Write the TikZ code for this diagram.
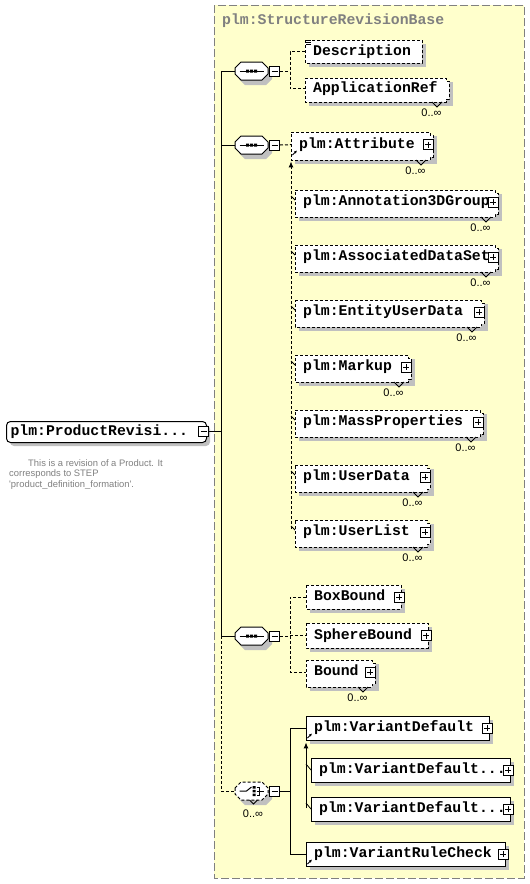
\documentclass[tikz,border=0pt]{standalone}
\usepackage{fontspec}
\setmainfont{Liberation Sans}
\newfontfamily\elfont{Liberation Mono}
\usetikzlibrary{arrows.meta}
\definecolor{xyellow}{RGB}{255,255,204}
\definecolor{xshadow}{RGB}{192,192,192}
\definecolor{xgray}{RGB}{128,128,128}
\tikzset{
  conn/.style={line width=1pt, draw=black},
  dconn/.style={conn, dash pattern=on 3pt off 2pt},
  edash/.style={line width=1pt, dash pattern=on 3pt off 2pt},
  esolid/.style={line width=1pt},
  shd/.style={fill=xshadow},
  elfontstyle/.style={font=\elfont\bfseries\fontsize{14.8}{16}\selectfont},
  eltext/.style={elfontstyle, inner xsep=8pt, inner ysep=0pt, text height=9.5pt, text depth=2.5pt, anchor=north west},
  pmbox/.style={draw, fill=white, line width=1pt, minimum size=10pt, inner sep=0pt},
  card/.style={font=\fontsize{11}{13}\selectfont, inner sep=0pt, text=black},
  anchorbox/.style={minimum width=33pt, minimum height=18pt, inner sep=0pt},
  tick/.style={line width=0.8pt},
}
% element box: name, x1, y1, x2, y2, text, border style, multi, plus
\newcommand{\xelem}[9]{%
  \fill[shd] (#2+4,#3+4) rectangle (#4+4,#5+4);
  \ifnum#8=1
    \filldraw[fill=white,#7] (#2,#3) -- (#4-3,#3) -- (#4-3,#3+3) -- (#4,#3+3) -- (#4,#5-3) -- (#4-3,#5-3) -- (#4-3,#5) -- (#2,#5) -- cycle;
    \pgfmathsetmacro\xw{#4-#2-3}\pgfmathsetmacro\xh{#5-#3-3}%
  \else
    \filldraw[fill=white,#7] (#2,#3) rectangle (#4,#5);
    \pgfmathsetmacro\xw{#4-#2}\pgfmathsetmacro\xh{#5-#3}%
  \fi
  \pgfmathsetmacro\xtw{\xw-16}%
  \node[eltext, minimum width=\xw pt, minimum height=\xh pt] (#1) at (#2,#3) {\makebox[\xtw pt][l]{#6}};
  \ifnum#9=1
  \begin{scope}[shift={([xshift=-2pt]#1.east)}]
    \filldraw[fill=white, line width=1pt] (-5,-5) rectangle (5,5);
    \draw[line width=1pt] (-3,0) -- (3,0) (0,-3) -- (0,3);
  \end{scope}
  \fi
  \ifnum#8=1
    \draw[tick] (#4-17,#5) -- (#4-12,#5+5) -- (#4-7,#5);
    \node[card] (#1-card) at (#4-17.5,#5+11) {0..∞};
  \fi
}
% compositor octagon: name, cx, cy, style
\newcommand{\xoct}[4]{%
  \begin{scope}[shift={(#2+4,#3+5)}]
    \fill[shd] (-16.5,-3) -- (-10.5,-9) -- (10.5,-9) -- (16.5,-3) -- (16.5,3) -- (10.5,9) -- (-10.5,9) -- (-16.5,3) -- cycle;
  \end{scope}
  \begin{scope}[shift={(#2,#3)}]
    \filldraw[fill=white,#4] (-16.5,-3) -- (-10.5,-9) -- (10.5,-9) -- (16.5,-3) -- (16.5,3) -- (10.5,9) -- (-10.5,9) -- (-16.5,3) -- cycle;
    \node[anchorbox] (#1) at (0,0) {};
  \end{scope}
  \node[pmbox] (#1m) at (#2+23,#3) {};
  \draw[line width=1pt] (#2+20,#3) -- (#2+26,#3);
}
\newcommand{\xseqicon}[2]{%
  \begin{scope}[shift={(#1,#2)}]
    \draw[line width=1pt] (-12,0) -- (12,0);
    \fill (-5.5,-1.5) rectangle (-2.5,1.5) (-1.5,-1.5) rectangle (1.5,1.5) (2.5,-1.5) rectangle (5.5,1.5);
  \end{scope}
}
\begin{document}
\begin{tikzpicture}[x=1pt,y=-1pt]
\useasboundingbox (0,0) rectangle (530,884);
\fill[white] (0,0) rectangle (530,884);
\filldraw[fill=xyellow, draw=xgray, line width=1pt, dash pattern=on 8pt off 3pt] (214,5) rectangle (524,878);
\node[anchor=west, inner sep=0pt, elfontstyle, text=xgray] (title) at (222,21) {plm:StructureRevisionBase};

% root element
\fill[shd, rounded corners=4pt] (10,425) rectangle (210,446);
\node[draw, fill=white, line width=1pt, rounded corners=4pt, anchor=north west, minimum width=200pt, minimum height=21pt, inner xsep=4pt, inner ysep=0pt, elfontstyle, text height=9.5pt, text depth=2.5pt] (root) at (6,421) {\makebox[192pt][l]{plm:ProductRevisi...}};
\node[pmbox] (rootm) at (203.5,431.5) {};
\draw[line width=1pt] (200.5,431.5) -- (206.5,431.5);
\node[anchor=north west, inner sep=0pt, align=left, text=xgray, font=\fontsize{9.4}{10.5}\selectfont] (rootdoc) at (9,459) {\hspace*{19pt}This is a revision of a Product. It\\corresponds to STEP\\\textquotesingle product\_definition\_formation\textquotesingle.};

\coordinate (tk) at (221,0);
\coordinate (b1) at (290,0);
\coordinate (sgA) at (291,529);
\coordinate (sgB) at (306,808);

% compositors
\xoct{s1}{251.5}{71}{esolid}
\xseqicon{251.5}{71}
\xoct{s2}{251.5}{145}{esolid}
\xseqicon{251.5}{145}
\xoct{s3}{251.5}{636}{esolid}
\xseqicon{251.5}{636}
\xoct{ch}{251.5}{791}{edash}
\begin{scope}[shift={(251.5,791)}]
  \draw[line width=1pt] (-12,0) -- (-5,0) -- (0,-4);
  \fill (1,-5) rectangle (4,-2.5) (1,-1.25) rectangle (4,1.25) (1,2.5) rectangle (4,5);
  \draw[line width=1pt] (5,-4) -- (8,-4) -- (8,4) -- (5,4) (5,0) -- (12,0);
\end{scope}
\draw[tick] (249.5,800) -- (253.5,804) -- (257.5,800);
\node[card] (ch-card) at (253,814) {0..∞};

% elements
\xelem{Descr}{305}{40}{422}{63}{Description}{edash}{0}{0}
\draw[tick] (306,40.5) -- (311,40.5) (306,42.5) -- (311,42.5) (306,44.5) -- (311,44.5);
\xelem{AppRef}{305}{78}{449}{102}{ApplicationRef}{edash}{1}{0}
\xelem{Attr}{291}{132}{433}{160}{plm:Attribute}{edash}{1}{1}
\xelem{Annot}{295}{190}{498}{217}{plm:Annotation3DGroup}{edash}{1}{1}
\xelem{Assoc}{295}{245}{498}{272}{plm:AssociatedDataSet}{edash}{1}{1}
\xelem{Entity}{295}{300}{484}{327}{plm:EntityUserData}{edash}{1}{1}
\xelem{Markup}{295}{355}{411}{382}{plm:Markup}{edash}{1}{1}
\xelem{Mass}{295}{410}{483}{437}{plm:MassProperties}{edash}{1}{1}
\xelem{UData}{295}{465}{430}{492}{plm:UserData}{edash}{1}{1}
\xelem{UList}{295}{520}{430}{547}{plm:UserList}{edash}{1}{1}
\xelem{BoxB}{306}{585}{401}{609}{BoxBound}{edash}{0}{1}
\xelem{Sphere}{306}{623}{428}{648}{SphereBound}{edash}{0}{1}
\xelem{Bound}{306}{660}{375}{687}{Bound}{edash}{1}{1}
\xelem{VarDef}{306}{716}{489}{740}{plm:VariantDefault}{esolid}{0}{1}
\xelem{VarDa}{311}{758}{510}{782}{plm:VariantDefault...}{esolid}{0}{1}
\xelem{VarDb}{311}{797}{510}{821}{plm:VariantDefault...}{esolid}{0}{1}
\xelem{VarRC}{306}{842}{505}{866}{plm:VariantRuleCheck}{esolid}{0}{1}

% reference arrows
\draw[tick, -{Latex[length=3pt,width=3pt]}] (292.5,155) -- (297,150.5);
\draw[tick, -{Latex[length=3pt,width=3pt]}] (307.5,738) -- (312,733.5);
\draw[tick, -{Latex[length=3pt,width=3pt]}] (307.5,864) -- (312,859.5);

% trunk
\draw[conn] (rootm.east) -- (rootm.east -| tk);
\draw[conn] (s1.west) -- (s1.west -| tk) -- (s3.west -| tk) -- (s3.west);
\draw[conn] (s2.west) -- (s2.west -| tk);
\draw[dconn] (s3.west -| tk) -- (ch.west -| tk) -- (ch.west);

% sequence 1
\draw[dconn] (s1m.east) -- (s1m.east -| b1);
\draw[dconn] (Descr.west) -- (Descr.west -| b1) -- (AppRef.west -| b1) -- (AppRef.west);
% sequence 2
\draw[dconn] (s2m.east) -- (Attr.west);
\draw[dconn, -{Latex[length=6pt,width=5pt]}] (sgA) -- ([yshift=-4pt]Attr.south west);
\foreach \n in {Annot,Assoc,Entity,Markup,Mass,UData,UList}
  \draw[tick] (sgA |- \n.north west) ++(0,6) -- ++(4,4);
% sequence 3
\draw[dconn] (s3m.east) -- (s3m.east -| b1);
\draw[dconn] (BoxB.west) -- (BoxB.west -| b1) -- (Bound.west -| b1) -- (Bound.west);
\draw[dconn] (Sphere.west -| b1) -- (Sphere.west);
% choice
\draw[conn] (chm.east) -- (chm.east -| b1);
\draw[conn] (VarDef.west) -- (VarDef.west -| b1) -- (VarRC.west -| b1) -- (VarRC.west);
\draw[conn, -{Latex[length=6pt,width=5pt]}] (sgB) -- ([yshift=-2pt]VarDef.south west);
\foreach \n in {VarDa,VarDb}
  \draw[tick] (sgB |- \n.north west) ++(0,6) -- ++(5,6);
\end{tikzpicture}
\end{document}
